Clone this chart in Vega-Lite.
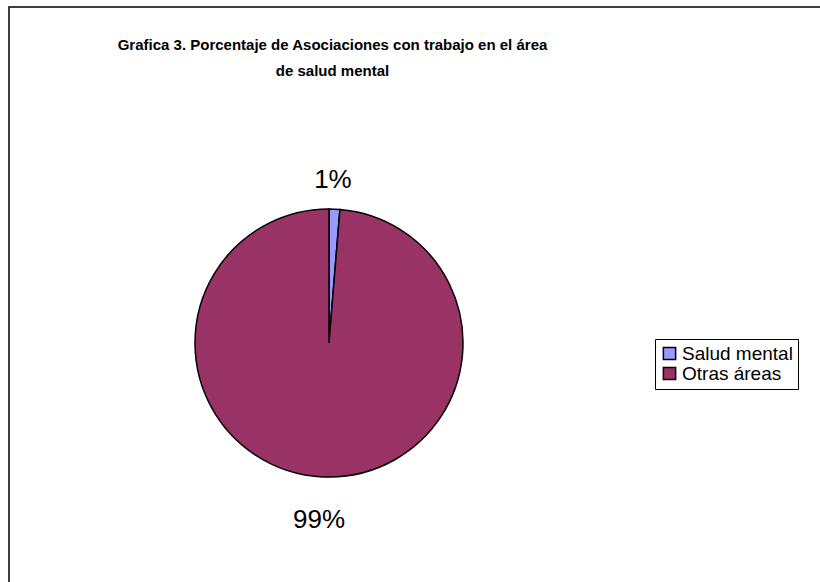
{
  "$schema": "https://vega.github.io/schema/vega-lite/v6.json",
  "width": 820,
  "height": 582,
  "autosize": {"type": "fit", "contains": "padding"},
  "padding": {"left": 9, "top": 7, "right": 0, "bottom": 0},
  "background": "white",
  "view": {"stroke": "black", "strokeWidth": 1.5, "fill": "white", "strokeDash": [811, 1386, 575]},
  "config": {
    "font": "Liberation Sans"
  },
  "title": {
    "text": ["Grafica 3. Porcentaje de Asociaciones con trabajo en el área", "de salud mental"],
    "font": "Liberation Sans",
    "fontSize": 15,
    "fontWeight": "bold",
    "color": "black",
    "anchor": "middle",
    "frame": "group",
    "dx": -82,
    "offset": -72,
    "lineHeight": 26
  },
  "data": {
    "values": [
      {"area": "Salud mental", "count": 1, "label": "1%", "order": 1},
      {"area": "Otras áreas", "count": 76, "label": "99%", "order": 2}
    ]
  },
  "encoding": {
    "theta": {"field": "count", "type": "quantitative", "stack": true},
    "order": {"field": "order", "type": "quantitative"}
  },
  "layer": [
    {
      "mark": {"type": "arc", "x": 320, "y": 336, "outerRadius": 134, "stroke": "black", "strokeWidth": 1.5},
      "encoding": {
        "color": {
          "field": "area",
          "type": "nominal",
          "sort": ["Salud mental", "Otras áreas"],
          "scale": {"domain": ["Salud mental", "Otras áreas"], "range": ["#9999FF", "#993366"]},
          "legend": {
            "title": null,
            "orient": "none",
            "legendX": 646,
            "legendY": 332,
            "symbolType": "square",
            "symbolSize": 150,
            "symbolStrokeColor": "black",
            "symbolStrokeWidth": 1.5,
            "labelFontSize": 19,
            "labelFont": "Liberation Sans",
            "labelColor": "black",
            "labelOffset": 3,
            "rowPadding": 0,
            "strokeColor": "black",
            "padding": 5,
            "fillColor": "white"
          }
        }
      }
    },
    {
      "mark": {"type": "text", "x": 320, "y": 336, "radius": 170, "dy": 7, "dx": -3, "fontSize": 26, "font": "Liberation Sans", "color": "black", "align": "center", "baseline": "middle"},
      "encoding": {
        "text": {"field": "label", "type": "nominal"}
      }
    }
  ]
}
